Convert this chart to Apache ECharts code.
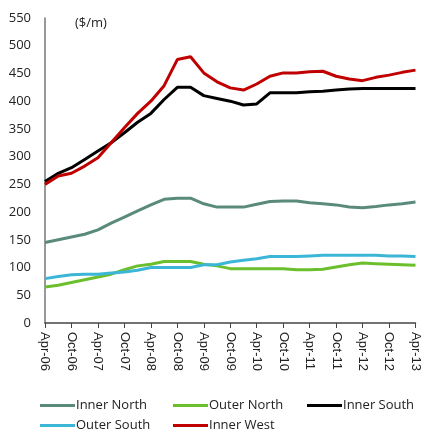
<!DOCTYPE html>
<html><head><meta charset="utf-8">
<script src="https://cdn.jsdelivr.net/npm/echarts@6/dist/echarts.min.js"></script>
<style>html,body{margin:0;padding:0;background:#fff}#c{width:422px;height:432px}</style>
</head><body><div id="c"></div>
<script>
const categories = ["Apr-06","Jul-06","Oct-06","Jan-07","Apr-07","Jul-07","Oct-07","Jan-08","Apr-08","Jul-08","Oct-08","Jan-09","Apr-09","Jul-09","Oct-09","Jan-10","Apr-10","Jul-10","Oct-10","Jan-11","Apr-11","Jul-11","Oct-11","Jan-12","Apr-12","Jul-12","Oct-12","Jan-13","Apr-13"];
const innerNorth = [145,150,155,160,168,180,191,202,213,223,225,225,215,209,209,209,214,219,220,220,217,215,213,209,208,210,213,215,218];
const outerNorth = [65,68,73,78,83,88,96,103,106,111,111,111,106,103,98,98,98,98,98,96,96,97,101,105,108,107,106,105,104];
const innerSouth = [255,270,280,295,310,325,343,362,378,403,425,425,410,405,400,393,395,415,415,415,417,418,420,422,423,423,423,423,423];
const outerSouth = [80,84,87,88,88,90,92,95,100,100,100,100,105,105,110,113,116,120,120,120,121,122,122,122,122,122,121,121,120];
const innerWest = [250,265,270,283,298,325,352,378,400,428,475,480,451,435,424,420,431,445,451,451,453,454,445,440,437,443,447,452,456];
const seriesNames = ["Inner North","Outer North","Inner South","Outer South","Inner West"];
const colors = ["#5a8a7c","#6cbf2c","#000000","#3bb6d6","#c00000"];
const yMin = 0, yMax = 550, yStep = 50;
const unitLabel = "($/m)";

const chart = echarts.init(document.getElementById('c'), null, {renderer:'canvas'});
const dataSets = [innerNorth, outerNorth, innerSouth, outerSouth, innerWest];
const legendPos = [[40,399],[173,399],[307,399],[40,419],[173,419]];
chart.setOption({
  animation:false,
  color: colors,
  grid:{left:45,right:6,top:18,bottom:109,containLabel:false},
  graphic:[{type:'text',left:75,top:17,style:{text:unitLabel,font:'13px "Open Sans"',fill:'#222'}}],
  legend: seriesNames.map((n,i)=>({
    left:legendPos[i][0], top:legendPos[i][1], itemGap:0, itemWidth:35, itemHeight:3,
    icon:'rect', data:[n], padding:0,
    textStyle:{fontFamily:'Open Sans',fontSize:13,color:'#222',padding:[0,0,0,-4]}
  })),
  xAxis:{
    type:'category', data:categories, boundaryGap:false,
    axisLine:{lineStyle:{color:'#444',width:1.5}},
    axisTick:{show:true,interval:1,length:5,lineStyle:{color:'#444'}},
    axisLabel:{interval:1,rotate:-90,fontFamily:'Liberation Sans',fontSize:13,color:'#222',margin:9},
    splitLine:{show:false}
  },
  yAxis:{
    type:'value', min:yMin, max:yMax, interval:yStep,
    axisLine:{show:true,lineStyle:{color:'#777',width:1.5}},
    axisTick:{show:false},
    axisLabel:{fontFamily:'Open Sans',fontSize:13,color:'#222',margin:14},
    splitLine:{show:false}
  },
  series: seriesNames.map((n,i)=>({
    name:n, type:'line', data:dataSets[i], symbol:'none',
    lineStyle:{width:3,color:colors[i]}, itemStyle:{color:colors[i]}
  }))
});
</script></body></html>
